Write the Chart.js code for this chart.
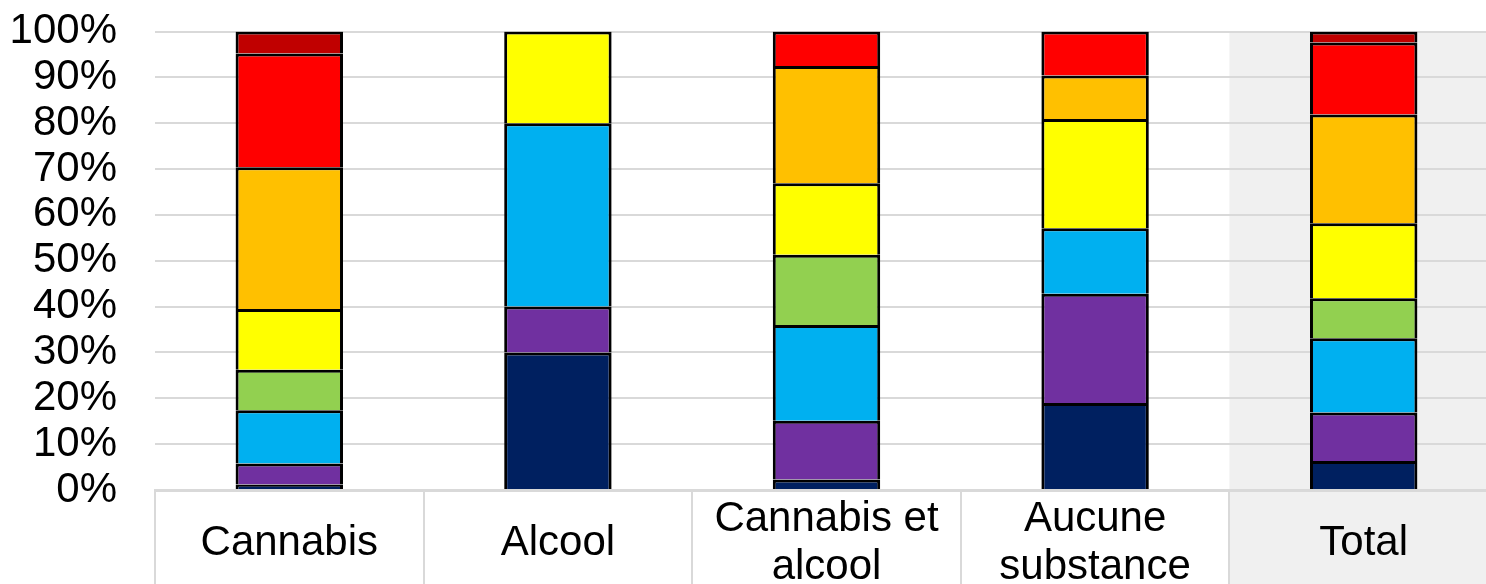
<!DOCTYPE html>
<html lang="fr">
<head>
<meta charset="utf-8">
<script src="https://cdn.jsdelivr.net/npm/chart.js@4"></script>
<style>
  html, body { margin: 0; padding: 0; background: #fff; overflow: hidden; }
  canvas { display: block; }
</style>
</head>
<body>
<canvas id="myChart" width="1500" height="600"></canvas>
<script>
// catégories (axe X) et graduations (axe Y)
const categories = [['Cannabis'], ['Alcool'], ['Cannabis et', 'alcool'], ['Aucune', 'substance'], ['Total']];
const yTicks = [0, 10, 20, 30, 40, 50, 60, 70, 80, 90, 100];

// valeurs en %, du bas vers le haut de chaque barre
const serie1 = [1.2, 30, 2.3, 19.0, 6.3];     // bleu foncé
const serie2 = [4.6, 10, 12.8, 23.8, 10.6];   // violet
const serie3 = [11.6, 40, 20.9, 14.3, 16.2];  // bleu clair
const serie4 = [8.8, 0, 15.3, 0, 8.7];        // vert
const serie5 = [13.3, 20, 15.6, 23.8, 16.4];  // jaune
const serie6 = [30.9, 0, 25.6, 9.5, 23.7];    // orange
const serie7 = [24.8, 0, 7.5, 9.6, 15.7];     // rouge
const serie8 = [4.8, 0, 0, 0, 2.4];           // rouge foncé

const couleurs = ['#002060', '#7030A0', '#00B0F0', '#92D050', '#FFFF00', '#FFC000', '#FF0000', '#C00000'];
const series = [serie1, serie2, serie3, serie4, serie5, serie6, serie7, serie8];

const police = { family: '"Liberation Sans", Arial, sans-serif', size: 42, lineHeight: 48 / 42 };

// fond gris derrière la colonne "Total"
const fondTotal = {
  id: 'fondTotal',
  beforeDraw(chart) {
    const ctx = chart.ctx;
    const x = chart.scales.x;
    const y = chart.scales.y;
    const w = x.width / categories.length;
    const left = x.getPixelForValue(categories.length - 1) - w / 2;
    ctx.save();
    ctx.fillStyle = '#F0F0F0';
    ctx.fillRect(left, y.top, chart.width - left, chart.height - y.top);
    ctx.restore();
  }
};

const ctx = document.getElementById('myChart');

new Chart(ctx, {
  type: 'bar',
  data: {
    labels: categories,
    datasets: series.map((s, i) => ({
      label: 'Série ' + (i + 1),
      data: s,
      backgroundColor: couleurs[i],
      borderColor: '#000000',
      borderWidth: 3,
      borderSkipped: 'start',
      inflateAmount: 0,
      barPercentage: 0.4,
      categoryPercentage: 1
    }))
  },
  options: {
    responsive: false,
    animation: false,
    devicePixelRatio: 1,
    layout: { padding: { top: 0, right: 2, left: 0, bottom: 0 } },
    plugins: {
      legend: { display: false },
      tooltip: { enabled: false }
    },
    scales: {
      x: {
        stacked: true,
        grid: { offset: true, drawOnChartArea: false, drawTicks: true, tickLength: 110, color: '#D9D9D9', lineWidth: 2 },
        border: { display: true, color: '#D9D9D9', width: 3 },
        ticks: { color: '#000', font: police, padding: -81, maxRotation: 0, autoSkip: false, crossAlign: 'center' },
        afterFit(scale) { scale.height = 110; }
      },
      y: {
        stacked: true,
        min: 0,
        max: 100,
        grid: { color: '#D9D9D9', lineWidth: 2, drawTicks: false },
        border: { display: false },
        afterBuildTicks(scale) { scale.ticks = yTicks.map(v => ({ value: v })); },
        ticks: { color: '#000', font: police, padding: 38, autoSkip: false, stepSize: 10, callback: v => v + '%' },
        afterFit(scale) {
          scale.width = 155;
          scale.paddingTop = 31.5;
          scale.paddingBottom = 0;
        }
      }
    }
  },
  plugins: [fondTotal]
});
</script>
</body>
</html>
